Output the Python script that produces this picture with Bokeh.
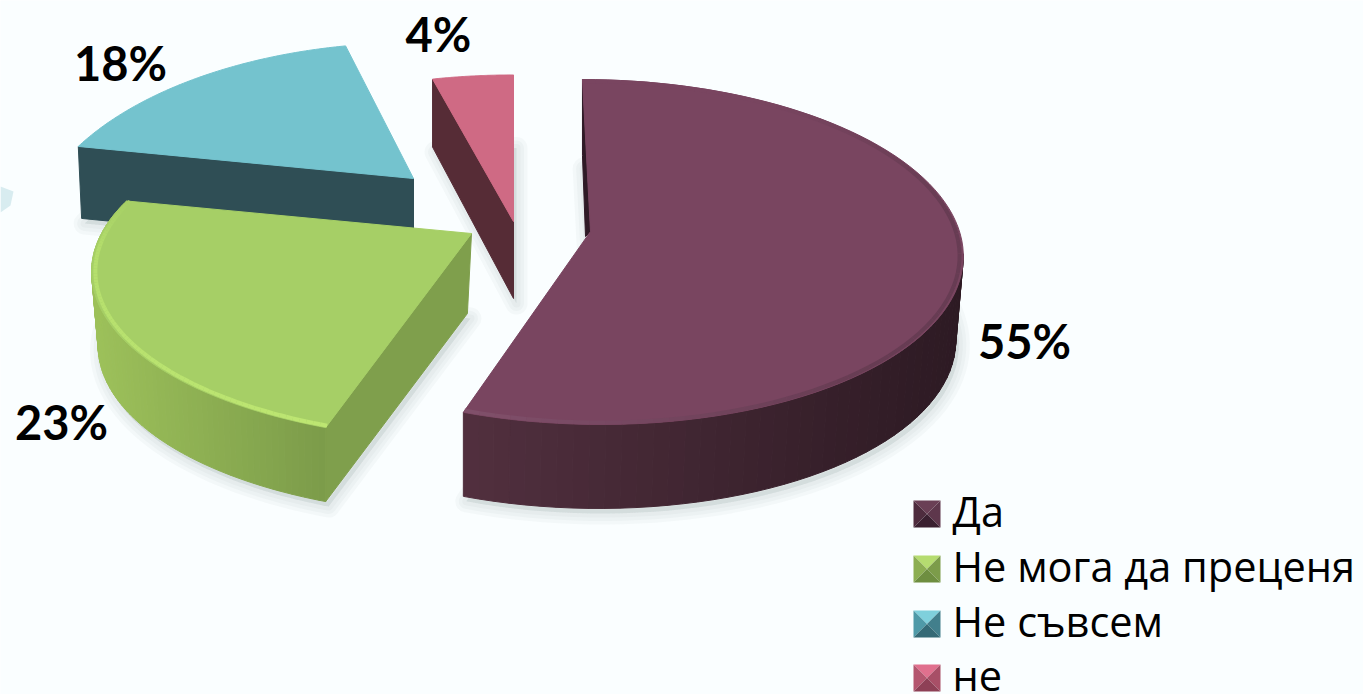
import math
from bokeh.plotting import figure
from bokeh.embed import file_html
from bokeh.resources import INLINE
from bokeh.core.properties import value

categories = ["Да", "Не мога да преценя", "Не съвсем", "не"]
values = [55, 23, 18, 4]
pct_labels = ["55%", "23%", "18%", "4%"]
label_x = [1024, 61, 120, 438]
label_y = [340, 421, 62, 33]
top_colors = ["#794560", "#a6cf66", "#74c3ce", "#cf6a84"]
cut_colors = ["#2f1a26", "#7f9f4c", "#2f4e55", "#562c36"]
wall_left = ["#52303f", "#9dc15a", "#2f4e55", "#562c36"]
wall_right = ["#2d1a23", "#7c9c4a", "#2f4e55", "#562c36"]
rim_a = ["#855570", "#bde672", "#7fcfda", "#d87a92"]
rim_b = ["#5f384d", "#b2dc6b", "#7fcfda", "#d87a92"]
icon_top = ["#6a3f55", "#b5dc70", "#7fd0dc", "#e0708e"]
icon_left = ["#4e2c3e", "#8cae52", "#4f9aa8", "#b4566f"]
icon_right = ["#5e374c", "#7c9c4a", "#427f8c", "#a84f67"]
icon_bottom = ["#3a2030", "#6e8e40", "#356a76", "#8e4056"]
legend_y = [513, 568, 623, 677]
legend_text_y = [510, 565, 620, 674]

# geometry of each exploded slice: apex, radii, perspective, lean, depth at rim / apex,
# vanishing x, bottom scale, angle trims
geom = [
    dict(ax=590, ay=231, R=369, Ry=170, k=0.119, lean=9, d=84, da=84, vx=462, sc=0.985, t0=0.0, t1=1.2),
    dict(ax=471, ay=233, R=370, Ry=160, k=0.227, lean=0, d=74, da=80, vx=325, sc=0.972, t0=0.0, t1=1.5),
    dict(ax=413, ay=178, R=363, Ry=182, k=0.34, lean=0, d=72, da=72, vx=413, sc=0.99, t0=0.0, t1=0.0),
    dict(ax=513, ay=221, R=363, Ry=164, k=0.119, lean=0, d=68, da=77, vx=432, sc=1.0, t0=0.0, t1=0.0),
]
BG = "#fafeff"

p = figure(width=1363, height=694, x_range=(0, 1363), y_range=(694, 0),
           output_backend="svg", toolbar_location=None, min_border=0,
           background_fill_color=BG, border_fill_color=BG, outline_line_color=None)
p.axis.visible = False
p.grid.visible = False


def pt(th, g):
    x, y = math.sin(th), -math.cos(th)
    s = 1 / (1 - g["k"] * y)
    return g["ax"] + g["R"] * x * s + g["lean"] * y * s, g["ay"] + g["Ry"] * y * s


def low(P, g, d=None):
    return g["vx"] + (P[0] - g["vx"]) * g["sc"], P[1] + (g["d"] if d is None else d)


def mix(a, b, t):
    ca = [int(a[i:i + 2], 16) for i in (1, 3, 5)]
    cb = [int(b[i:i + 2], 16) for i in (1, 3, 5)]
    return "#%02x%02x%02x" % tuple(round(u + (v - u) * t) for u, v in zip(ca, cb))


total = sum(values)
spans = []
acc = 0
for v in values:
    spans.append((acc / total * 2 * math.pi, (acc + v) / total * 2 * math.pi))
    acc += v
N = 90
shapes = []
for i, g in enumerate(geom):
    a0 = spans[i][0] + math.radians(g["t0"])
    a1 = spans[i][1] + math.radians(g["t1"])
    arc = [pt(a0 + (a1 - a0) * j / N, g) for j in range(N + 1)]
    apex = (g["ax"], g["ay"])
    shapes.append(dict(arc=arc, apex=apex, low=[low(P, g) for P in arc], a_low=low(apex, g, g["da"])))

# faint fragment of the slide's background art at the left edge
p.patch([0, 13, 10, 0], [186, 191, 205, 212], fill_color="#d8ecf0", line_color=None)

# soft shadows
for i in (0, 1, 2, 3):
    s = shapes[i]
    base = s["low"] + [s["a_low"]]
    xs = [P[0] + 3 for P in base]
    ys = [P[1] + 5 for P in base]
    for w in (22, 15, 8):
        p.patch(xs, ys, fill_color="#7f8a90", fill_alpha=0.05,
                line_color="#7f8a90", line_alpha=0.05, line_width=w, line_join="round")

# slices, back to front
for i in (2, 1, 3, 0):
    g, s = geom[i], shapes[i]
    arc, lo, apex, a_low = s["arc"], s["low"], s["apex"], s["a_low"]
    # outer curved wall
    if i in (0, 1):
        xmin = min(P[0] for P in arc)
        xmax = max(P[0] for P in arc)
        qx, qy, qc = [], [], []
        for j in range(N):
            if i == 0 and arc[j][0] < arc[j + 1][0]:
                continue
            qx.append([arc[j][0], arc[j + 1][0], lo[j + 1][0], lo[j][0]])
            qy.append([arc[j][1], arc[j + 1][1], lo[j + 1][1], lo[j][1]])
            qc.append(mix(wall_left[i], wall_right[i], (arc[j][0] - xmin) / (xmax - xmin)))
        p.patches(qx, qy, fill_color=qc, line_color=qc, line_width=1)
    # cut walls
    if i == 0:
        P = arc[0]
        inner = (apex[0] - 5, apex[1] + 5)
        p.patch([P[0], apex[0], inner[0], P[0]],
                [P[1], apex[1], inner[1], P[1] + 76],
                fill_color=cut_colors[i], line_color=cut_colors[i], line_width=1)
    else:
        p.patch([apex[0], arc[0][0], lo[0][0], a_low[0]],
                [apex[1], arc[0][1], lo[0][1], a_low[1]],
                fill_color=cut_colors[i], line_color=cut_colors[i], line_width=1)
    # top face
    p.patch([apex[0]] + [P[0] for P in arc], [apex[1]] + [P[1] for P in arc],
            fill_color=top_colors[i], line_color=top_colors[i], line_width=1)
    # bevelled rim
    if i in (0, 1):
        mx, my, mc = [], [], []
        for j in range(N):
            f = 0.99
            A = (apex[0] + (arc[j][0] - apex[0]) * f, apex[1] + (arc[j][1] - apex[1]) * f)
            B = (apex[0] + (arc[j + 1][0] - apex[0]) * f, apex[1] + (arc[j + 1][1] - apex[1]) * f)
            mx.append([A[0], B[0]])
            my.append([A[1], B[1]])
            if i == 0:
                t = max(0, min(1, (arc[j][0] - 460) / 420))
                c = mix(rim_a[i], rim_b[i], t)
                fade = max(0, min(1, (j - 12) / 25)) * 0.7
                c = mix(top_colors[i], c, fade)
            else:
                t = j / N
                c = mix(rim_a[i], rim_b[i], t)
                fade = max(0, min(1, (N - j) / 20))
                c = mix(top_colors[i], c, fade)
            mc.append(c)
        p.multi_line(mx, my, line_color=mc, line_width=4)

# percentage labels
p.text(label_x, label_y, text=pct_labels, text_font=value("Lato"), text_font_style="bold",
       text_font_size="47px", text_color="#000000", text_align="center", text_baseline="middle")

# legend
S = 27
for i, cat in enumerate(categories):
    x0, y0 = 913, legend_y[i] - 13
    cxx, cyy = x0 + S / 2, y0 + S / 2
    p.patches(
        [[x0, x0 + S, cxx], [x0, cxx, x0], [x0 + S, x0 + S, cxx], [x0, x0 + S, cxx]],
        [[y0, y0, cyy], [y0, cyy, y0 + S], [y0, y0 + S, cyy], [y0 + S, y0 + S, cyy]],
        fill_color=[icon_top[i], icon_left[i], icon_right[i], icon_bottom[i]],
        line_color=None)
p.text([952] * 4, legend_text_y, text=categories, text_font=value("Open Sans"),
       text_font_size="41.5px", text_color="#000000", text_align="left", text_baseline="middle")

open("out.html", "w").write(file_html(p, INLINE))
